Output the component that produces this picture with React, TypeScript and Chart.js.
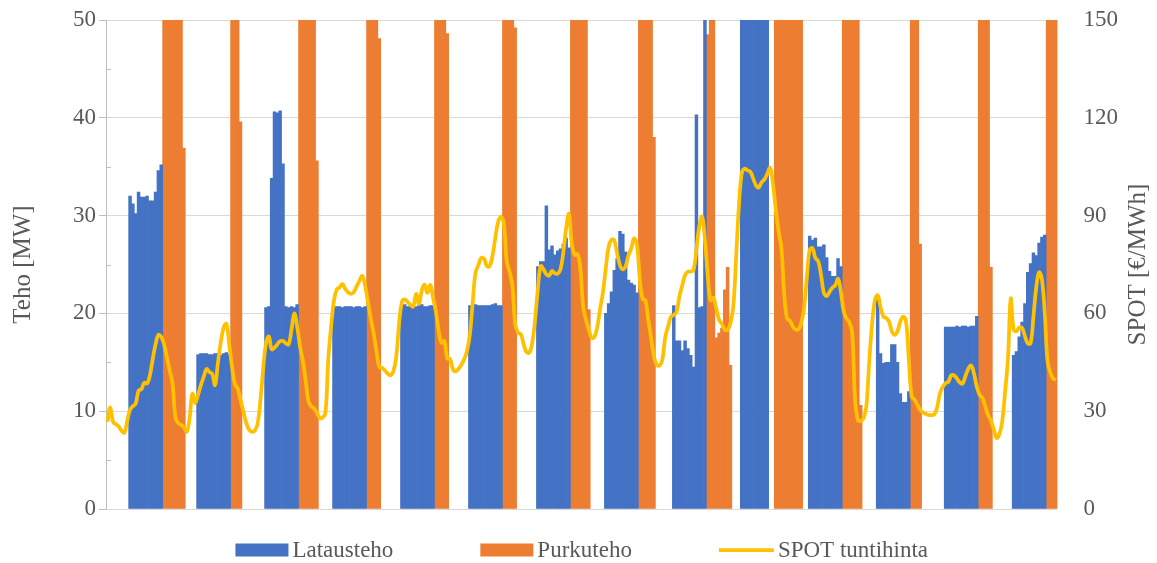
import React, { useEffect, useRef } from "react";
import { Chart, registerables } from "chart.js";

Chart.register(...registerables);

// Two weeks of hourly data: charging / discharging power of the battery and the hourly spot price.
const HOURS = 336;
const HOURS_PER_DAY = 24;
const CHARGE_START_HOUR = 8;
const DISCHARGE_START_HOUR = 20;

// Charging power per day [MW], starting at CHARGE_START_HOUR
const chargeByDay: number[][] = [
  [32.0, 31.2, 30.2, 32.4, 31.9, 31.9, 32.0, 31.5, 31.5, 32.4, 34.6, 35.2],
  [15.8, 15.9, 15.9, 15.9, 15.8, 15.8, 15.9, 15.9, 15.7, 15.9, 16.0, 15.8],
  [20.6, 20.7, 33.8, 40.6, 40.5, 40.7, 35.3, 20.7, 20.6, 20.7, 20.6, 20.9],
  [20.6, 20.7, 20.7, 20.6, 20.7, 20.7, 20.7, 20.6, 20.7, 20.7, 20.6, 20.7],
  [20.8, 20.9, 20.7, 20.7, 20.8, 20.7, 20.8, 20.9, 20.7, 20.7, 20.8, 20.8],
  [20.8, 20.9, 20.9, 20.8, 20.8, 20.8, 20.8, 20.8, 20.9, 21.0, 20.8, 20.8],
  [24.8, 25.3, 25.3, 31.0, 26.5, 26.9, 26.0, 26.4, 26.6, 27.1, 27.7, 26.7],
  [20.0, 21.0, 22.2, 24.4, 25.6, 28.4, 28.1, 26.3, 23.4, 23.1, 22.9, 22.1],
  [20.8, 17.2, 17.2, 16.2, 17.2, 16.4, 15.7, 14.5, 40.3, 20.6, 20.7, 60.0],
  [60.0, 60.0, 60.0, 60.0, 60.0, 60.0, 60.0, 60.0, 60.0, 60.0],
  [27.9, 27.5, 27.7, 26.8, 26.8, 27.0, 25.7, 24.3, 23.8, 23.8, 25.6, 24.8],
  [21.7, 15.9, 14.9, 15.0, 15.0, 16.8, 16.8, 15.0, 11.8, 10.9, 10.9, 12.0],
  [18.6, 18.6, 18.6, 18.6, 18.7, 18.6, 18.7, 18.7, 18.6, 18.7, 18.7, 19.7],
  [15.7, 16.1, 17.6, 19.1, 21.0, 24.2, 25.1, 26.2, 25.9, 27.2, 27.8, 28.0],
];

// Discharging power per day [MW], starting at DISCHARGE_START_HOUR
const dischargeByDay: number[][] = [
  [60, 60, 60, 60, 60, 60, 60, 36.9],
  [60, 60, 60, 39.6],
  [60, 60, 60, 60, 60, 60, 35.6],
  [60, 60, 60, 60, 48.1],
  [60, 60, 60, 60, 48.6],
  [60, 60, 60, 60, 49.2],
  [60, 60, 60, 60, 60, 60, 20.4],
  [60, 60, 60, 60, 60, 38.0],
  [48.5, 60, 60, 17.5, 18.0, 18.5, 22.4, 24.7, 14.7],
  [60, 60, 60, 60, 60, 60, 60, 60, 60, 60],
  [60, 60, 60, 60, 60, 60, 10.6],
  [60, 60, 60, 27.1],
  [60, 60, 60, 60, 24.7],
  [60, 60, 60, 60],
];

// Hourly spot price [€/MWh], one row per day
const spotPrice: number[] = [
  26.8, 31.2, 26.7, 26.0, 25.3, 24.0, 23.4, 27.0, 30.5, 31.5, 32.4, 36.3, 36.8, 38.7, 38.5, 41.0, 46.0, 50.5, 53.4, 52.8, 50.5, 46.5, 42.5, 38.5,
  28.3, 26.3, 25.8, 25.1, 23.7, 27.7, 35.3, 32.5, 35.0, 38.0, 40.5, 42.9, 42.0, 41.5, 38.0, 44.7, 51.0, 55.5, 56.8, 50.5, 43.7, 38.3, 37.0, 33.5,
  30.0, 26.5, 24.4, 23.7, 24.0, 26.0, 33.0, 43.0, 50.8, 52.9, 49.0, 49.5, 50.5, 51.5, 51.5, 50.8, 50.5, 55.0, 60.0, 56.0, 50.0, 45.5, 39.5, 33.0,
  31.5, 30.8, 29.5, 28.0, 28.0, 29.6, 46.0, 56.0, 64.0, 67.3, 68.0, 69.0, 67.5, 66.5, 66.0, 66.5, 68.3, 70.0, 71.5, 68.5, 63.5, 58.5, 54.0, 48.5,
  43.5, 43.3, 42.5, 41.5, 41.0, 42.3, 46.7, 57.0, 63.5, 64.3, 63.5, 62.6, 62.1, 66.0, 62.9, 67.0, 68.8, 66.3, 68.7, 64.8, 60.5, 54.5, 51.0, 51.5,
  46.2, 46.0, 42.9, 42.2, 43.0, 44.3, 46.0, 48.5, 53.5, 63.5, 72.5, 74.8, 77.0, 76.8, 74.5, 74.5, 77.8, 83.3, 88.1, 89.6, 87.6, 76.0, 72.8, 68.5,
  56.8, 54.0, 53.6, 50.5, 48.1, 48.0, 50.8, 57.8, 67.5, 74.5, 73.5, 72.0, 71.6, 73.0, 72.3, 72.2, 73.5, 78.8, 86.2, 90.5, 81.3, 78.0, 78.2, 74.0,
  62.0, 58.0, 55.0, 52.5, 52.8, 55.9, 61.5, 66.5, 74.0, 80.5, 82.6, 82.4, 78.4, 74.8, 73.5, 74.5, 77.8, 80.0, 83.0, 81.0, 70.5, 64.5, 64.0, 58.0,
  52.5, 46.8, 44.2, 44.0, 46.0, 52.8, 56.0, 59.0, 59.5, 60.5, 65.3, 68.6, 71.8, 72.8, 72.8, 73.3, 79.7, 86.7, 89.7, 82.5, 71.5, 64.0, 64.8, 61.5,
  58.0, 56.8, 55.0, 54.9, 57.0, 62.0, 77.0, 93.0, 103.0, 104.4, 103.9, 103.5, 101.5, 99.3, 98.6, 100.2, 101.1, 102.8, 104.6, 100.0, 92.0, 85.3, 80.0, 66.0,
  58.4, 57.8, 56.0, 55.0, 55.1, 57.0, 61.5, 71.0, 79.6, 80.0, 77.0, 76.0, 71.8, 66.3, 65.3, 66.6, 67.9, 68.6, 70.6, 66.7, 60.6, 58.4, 57.3, 54.2,
  34.0, 27.3, 27.0, 27.8, 31.5, 45.0, 56.5, 64.0, 65.6, 62.0, 59.0, 58.6, 57.5, 54.5, 53.4, 54.5, 57.5, 59.0, 57.5, 46.0, 34.5, 33.6, 32.0, 30.5,
  29.6, 29.2, 28.8, 28.8, 29.0, 31.2, 35.5, 37.5, 38.6, 39.1, 41.0, 41.0, 40.0, 38.8, 38.5, 40.8, 43.0, 44.0, 41.6, 37.5, 35.0, 34.0, 31.5, 28.8,
  27.1, 24.4, 21.8, 23.0, 27.0, 36.0, 46.0, 64.5, 55.0, 54.5, 55.6, 55.5, 53.0, 50.8, 50.8, 59.0, 68.0, 72.6, 70.5, 60.0, 45.2, 41.8, 40.0, 39.6,
];

const powerTicks = [0, 10, 20, 30, 40, 50];
const priceTicks = [0, 30, 60, 90, 120, 150];

const SERIES = {
  charge: { label: "Latausteho", color: "#4472C4" },
  discharge: { label: "Purkuteho", color: "#ED7D31" },
  spot: { label: "SPOT tuntihinta", color: "#FFC000" },
};

const TEXT_COLOR = "#595959";
const GRID_COLOR = "#D9D9D9";
const AXIS_COLOR = "#BFBFBF";
const FONT_FAMILY = '"Liberation Serif", "Times New Roman", Times, serif';

function spreadByDay(days: number[][], startHour: number): (number | null)[] {
  const out: (number | null)[] = new Array(HOURS).fill(null);
  days.forEach((vals, d) => {
    vals.forEach((v, k) => {
      const idx = d * HOURS_PER_DAY + startHour + k;
      if (idx < HOURS) out[idx] = v;
    });
  });
  return out;
}

// Minor tick marks on the inner side of the power axis
const minorTicksPlugin = {
  id: "minorTicks",
  afterDraw(chart: any) {
    const scale = chart.scales.y;
    const ctx = chart.ctx;
    ctx.save();
    ctx.strokeStyle = AXIS_COLOR;
    ctx.lineWidth = 1;
    for (let v = 5; v < 50; v += 10) {
      const y = Math.round(scale.getPixelForValue(v)) + 0.5;
      ctx.beginPath();
      ctx.moveTo(scale.right, y);
      ctx.lineTo(scale.right + 5, y);
      ctx.stroke();
    }
    ctx.restore();
  },
};

// Axis titles, both reading bottom-to-top
const axisTitlePlugin = {
  id: "axisTitles",
  afterDraw(chart: any) {
    const { ctx, chartArea } = chart;
    const cy = (chartArea.top + chartArea.bottom) / 2;
    ctx.save();
    ctx.fillStyle = TEXT_COLOR;
    ctx.font = `25px ${FONT_FAMILY}`;
    ctx.textAlign = "center";
    ctx.textBaseline = "middle";
    const draw = (text: string, x: number) => {
      ctx.save();
      ctx.translate(x, cy);
      ctx.rotate(-Math.PI / 2);
      ctx.fillText(text, 0, 0);
      ctx.restore();
    };
    draw("Teho [MW]", chart.scales.y.left + 23);
    draw("SPOT [€/MWh]", chart.scales.yRight.right - 19);
    ctx.restore();
  },
};

// Legend below the plot: swatch followed by the series name
const legendPlugin = {
  id: "seriesLegend",
  afterDraw(chart: any) {
    const { ctx, chartArea } = chart;
    const items = [
      { ...SERIES.charge, kind: "box", swatch: 53 },
      { ...SERIES.discharge, kind: "box", swatch: 53 },
      { ...SERIES.spot, kind: "line", swatch: 55 },
    ];
    const textGap = 4;
    const itemGap = 87;
    ctx.save();
    ctx.font = `23px ${FONT_FAMILY}`;
    const widths = items.map((it) => it.swatch + textGap + ctx.measureText(it.label).width);
    const total = widths.reduce((a, b) => a + b, 0) + itemGap * (items.length - 1);
    const cx = (chartArea.left + chartArea.right) / 2;
    const y = chart.height - 13;
    let x = cx - total / 2;
    items.forEach((it, i) => {
      if (it.kind === "box") {
        ctx.fillStyle = it.color;
        ctx.fillRect(x, y - 6.5, it.swatch, 13);
      } else {
        ctx.strokeStyle = it.color;
        ctx.lineWidth = 3.75;
        ctx.beginPath();
        ctx.moveTo(x, y);
        ctx.lineTo(x + it.swatch, y);
        ctx.stroke();
      }
      ctx.fillStyle = TEXT_COLOR;
      ctx.textAlign = "left";
      ctx.textBaseline = "middle";
      ctx.fillText(it.label, x + it.swatch + textGap, y + 1);
      x += widths[i] + itemGap;
    });
    ctx.restore();
  },
};

export default function App() {
  const canvasRef = useRef<HTMLCanvasElement | null>(null);

  useEffect(() => {
    if (!canvasRef.current) return;
    const labels = Array.from({ length: HOURS }, (_, i) => String(i + 1));
    const charge = spreadByDay(chargeByDay, CHARGE_START_HOUR);
    const discharge = spreadByDay(dischargeByDay, DISCHARGE_START_HOUR);

    const chart = new Chart(canvasRef.current, {
      type: "bar",
      data: {
        labels,
        datasets: [
          {
            type: "line",
            label: SERIES.spot.label,
            data: spotPrice,
            yAxisID: "yRight",
            borderColor: SERIES.spot.color,
            backgroundColor: SERIES.spot.color,
            borderWidth: 3.75,
            pointRadius: 0,
            tension: 0.4,
            fill: false,
            order: 0,
          } as any,
          {
            type: "bar",
            label: SERIES.charge.label,
            data: charge,
            yAxisID: "y",
            backgroundColor: SERIES.charge.color,
            borderWidth: 0,
            barPercentage: 1,
            categoryPercentage: 1,
            grouped: false,
            order: 1,
          } as any,
          {
            type: "bar",
            label: SERIES.discharge.label,
            data: discharge,
            yAxisID: "y",
            backgroundColor: SERIES.discharge.color,
            borderWidth: 0,
            barPercentage: 1,
            categoryPercentage: 1,
            grouped: false,
            order: 2,
          } as any,
        ],
      },
      options: {
        animation: false,
        responsive: false,
        layout: { padding: { top: 20, bottom: 54, left: 0, right: 0 } },
        plugins: { legend: { display: false }, tooltip: { enabled: false } },
        scales: {
          x: { display: false },
          y: {
            position: "left",
            min: 0,
            max: 50,
            afterBuildTicks: (s: any) => {
              s.ticks = powerTicks.map((v) => ({ value: v }));
            },
            ticks: {
              color: TEXT_COLOR,
              font: { family: FONT_FAMILY, size: 23 },
              padding: 3,
            },
            grid: { color: GRID_COLOR, tickColor: AXIS_COLOR, tickLength: 7, lineWidth: 1 },
            border: { display: true, color: AXIS_COLOR, width: 1 },
            afterFit: (s: any) => {
              s.width = 106;
              s.paddingTop = 0;
              s.paddingBottom = 0;
            },
          },
          yRight: {
            position: "right",
            min: 0,
            max: 150,
            afterBuildTicks: (s: any) => {
              s.ticks = priceTicks.map((v) => ({ value: v }));
            },
            ticks: {
              color: TEXT_COLOR,
              font: { family: FONT_FAMILY, size: 23 },
              padding: 26,
            },
            grid: { display: false, drawTicks: false },
            border: { display: false },
            afterFit: (s: any) => {
              s.width = 99.5;
              s.paddingTop = 0;
              s.paddingBottom = 0;
            },
          },
        },
      } as any,
      plugins: [minorTicksPlugin, axisTitlePlugin, legendPlugin],
    });
    return () => chart.destroy();
  }, []);

  return (
    <div style={{ position: "fixed", left: 0, top: 0, width: 1157, height: 563, background: "#ffffff" }}>
      <canvas ref={canvasRef} width={1157} height={563} style={{ display: "block" }} />
    </div>
  );
}
